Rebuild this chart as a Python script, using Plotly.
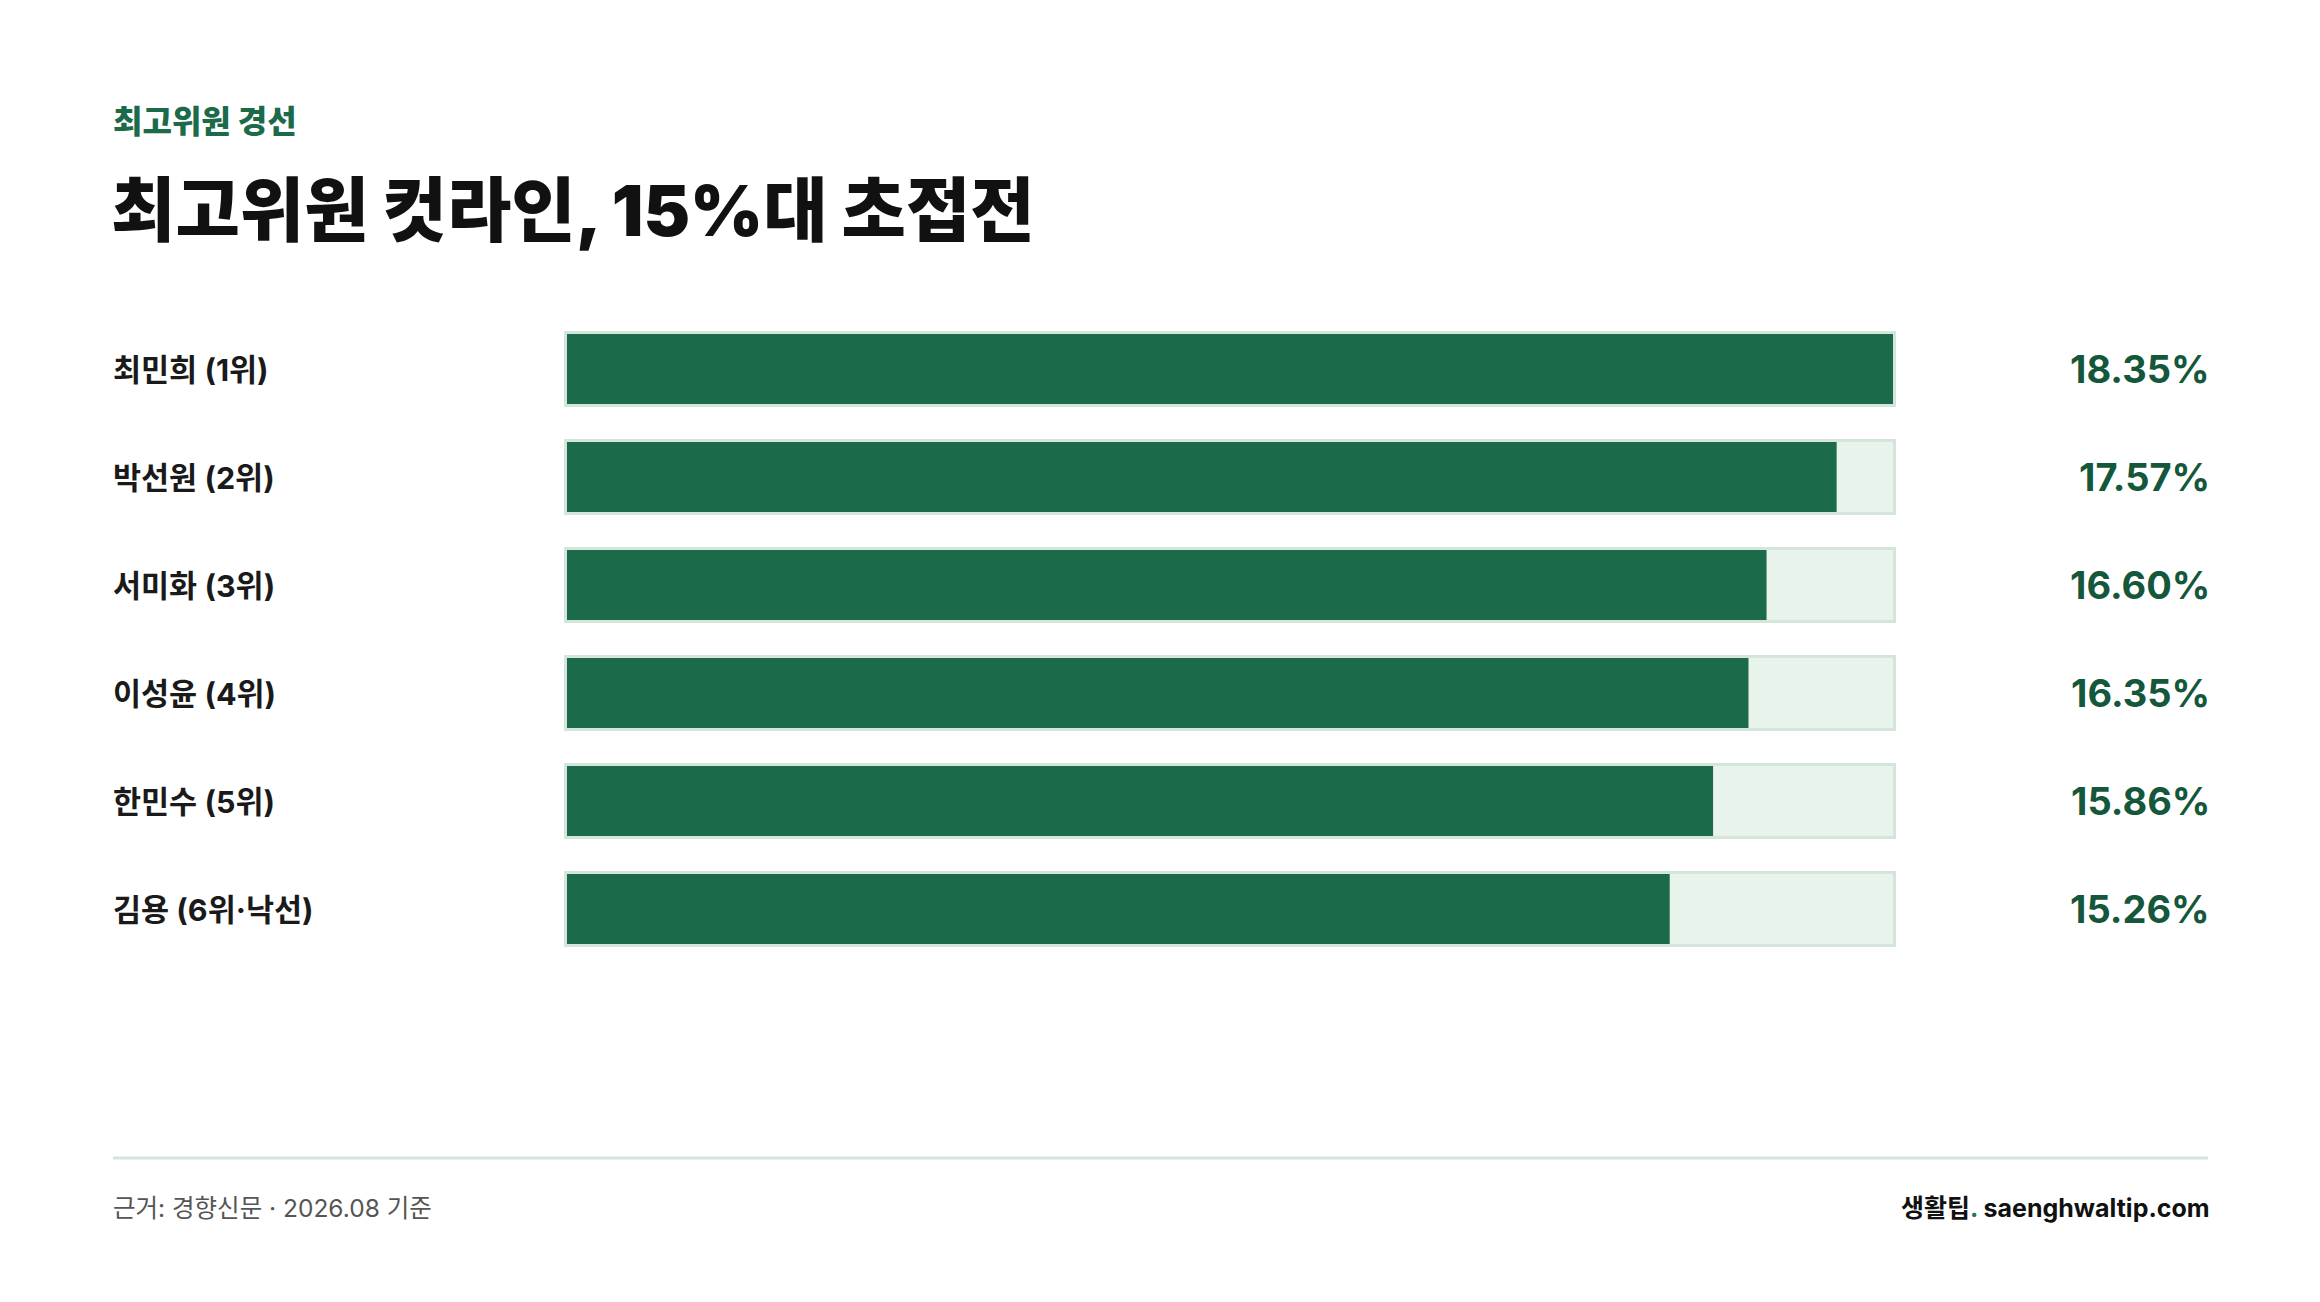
import plotly.graph_objects as go

# données
noms = ['최민희 (1위)', '박선원 (2위)', '서미화 (3위)', '이성윤 (4위)', '한민수 (5위)', '김용 (6위·낙선)']
valeurs = [18.35, 17.57, 16.60, 16.35, 15.86, 15.26]

surtitre = '최고위원 경선'
titre = '최고위원 컷라인, 15%대 초접전'
source = '근거: 경향신문 · 2026.08 기준'
signature = "생활팁<span style='color:#1b7a55'>.</span> saenghwaltip.com"

VERT = '#1b6a4a'
VERT_TEXTE = '#15573b'
PISTE = '#e8f3ec'
BORD = '#d4e6dc'
POLICE = 'Inter, Noto Sans CJK KR, sans-serif'

# la page ajoute une marge de 8 px autour du graphique
DEC = 8
LARG, HAUT = 2320 - DEC, 1302 - DEC
G, D = 564 - DEC, 1896 - DEC      # bord extérieur de la piste
H_, B_ = 315 - DEC, 963 - DEC     # zone des barres
W = D - G
H = B_ - H_
bord = 3
vmax = max(valeurs)
pad = bord * vmax / (W - 2 * bord)


def px_x(px):
	return (px - DEC - G) / W


def px_y(py):
	return (B_ - (py - DEC)) / H


fig = go.Figure()
# bordure de la piste
fig.add_trace(go.Bar(
	y=noms, x=[vmax + 2 * pad] * len(noms), base=-pad, orientation='h',
	width=76 / 108, marker=dict(color=BORD, line=dict(width=0)), hoverinfo='skip',
))
# fond de la piste
fig.add_trace(go.Bar(
	y=noms, x=[vmax] * len(noms), base=0, orientation='h',
	width=70 / 108, marker=dict(color=PISTE, line=dict(width=0)), hoverinfo='skip',
))
# valeurs
fig.add_trace(go.Bar(
	y=noms, x=valeurs, base=0, orientation='h',
	width=70 / 108, marker=dict(color=VERT, line=dict(width=0)),
))

annotations = []
for nom, v in zip(noms, valeurs):
	annotations.append(dict(
		x=px_x(111), xref='paper', y=nom, yref='y', xanchor='left', yanchor='middle',
		text=nom, showarrow=False, font=dict(family=POLICE, size=30.5, color='#1a1a1a', weight=700),
	))
	annotations.append(dict(
		x=px_x(2212), xref='paper', y=nom, yref='y', xanchor='right', yanchor='middle',
		text=f'{v:.2f}%', showarrow=False, font=dict(family=POLICE, size=38, color=VERT_TEXTE, weight=700),
	))

annotations += [
	dict(x=px_x(111), y=px_y(122), xref='paper', yref='paper', xanchor='left', yanchor='middle',
		text=surtitre, showarrow=False, font=dict(family=POLICE, size=32, color=VERT, weight=800)),
	dict(x=px_x(109), y=px_y(211), xref='paper', yref='paper', xanchor='left', yanchor='middle',
		text=titre, showarrow=False, font=dict(family=POLICE, size=70, color='#111111', weight=900)),
	dict(x=px_x(111), y=px_y(1208), xref='paper', yref='paper', xanchor='left', yanchor='middle',
		text=source, showarrow=False, font=dict(family=POLICE, size=24.5, color='#555555', weight=400)),
	dict(x=px_x(2212), y=px_y(1208), xref='paper', yref='paper', xanchor='right', yanchor='middle',
		text=signature, showarrow=False, font=dict(family=POLICE, size=25, color='#111111', weight=700)),
]

fig.update_layout(
	width=LARG, height=HAUT,
	margin=dict(l=G, r=LARG - D, t=H_, b=HAUT - B_, pad=0),
	paper_bgcolor='white', plot_bgcolor='white',
	barmode='overlay', showlegend=False,
	xaxis=dict(range=[-pad, vmax + pad], visible=False, fixedrange=True),
	yaxis=dict(autorange='reversed', visible=False, fixedrange=True),
	annotations=annotations,
	shapes=[dict(type='line', xref='paper', yref='paper', x0=px_x(113), x1=px_x(2208),
		y0=px_y(1158), y1=px_y(1158), line=dict(color=BORD, width=3))],
)

fig.write_html('out.html')
print('out.html généré avec succès !')
